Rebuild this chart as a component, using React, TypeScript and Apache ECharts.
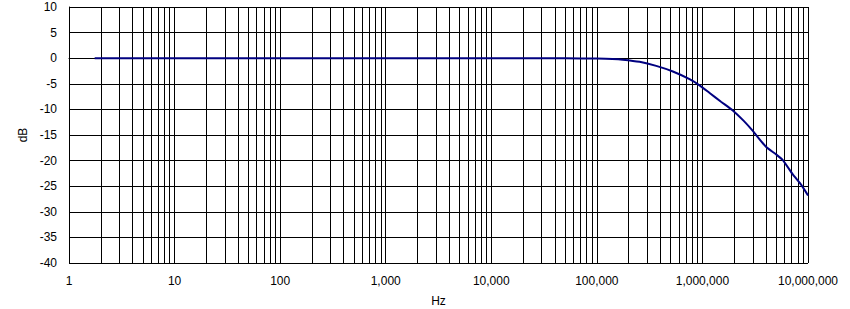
import React, { useEffect, useRef } from "react";
import * as echarts from "echarts";

// Frequency response data (Hz, dB)
const freqs = [1.75, 10, 100, 1000, 10000, 50000, 100000, 140000, 176000, 254000, 365000, 525000, 755000, 938000, 1170000, 1500000, 1940000, 2450000, 3000000, 4000000, 5000000, 5770000, 7180000, 8600000, 10000000];
const gains = [0, 0, 0, 0, 0, -0.02, -0.08, -0.15, -0.28, -0.7, -1.5, -2.6, -4.1, -5.3, -6.8, -8.5, -10.2, -12.2, -14.2, -17.3, -18.8, -19.9, -22.7, -24.7, -26.8];

// Minor vertical grid lines (2..9 within each decade)
const decades = [1, 10, 100, 1000, 10000, 100000, 1000000];
const multipliers = [2, 3, 4, 5, 6, 7, 8, 9];

const yTicks = { min: -40, max: 10, interval: 5 };

const fmt = (v: number) => Math.round(v).toLocaleString("en-US");

export default function App() {
  const ref = useRef<HTMLDivElement>(null);
  useEffect(() => {
    if (!ref.current) return;
    const chart = echarts.init(ref.current, null, { renderer: "svg" });
    const minorLines: { xAxis: number }[] = [];
    decades.forEach((d) => multipliers.forEach((m) => minorLines.push({ xAxis: d * m })));
    const font = "'Liberation Sans', Arial, sans-serif";
    chart.setOption({
      animation: false,
      grid: { left: 69, right: 42, top: 7, bottom: 46, containLabel: false, outerBoundsMode: "none" },
      xAxis: {
        type: "log",
        logBase: 10,
        min: 1,
        max: 10000000,
        name: "Hz",
        nameLocation: "middle",
        nameGap: 32,
        nameTextStyle: { color: "#000", fontSize: 12, fontFamily: font },
        axisLine: { show: true, lineStyle: { color: "#000", width: 1 } },
        axisTick: { show: false },
        axisLabel: { color: "#000", fontSize: 12, fontFamily: font, margin: 12, formatter: (v: number) => fmt(v) },
        splitLine: { show: true, lineStyle: { color: "#000", width: 1 } },
        minorTick: { show: false },
        minorSplitLine: { show: false },
      },
      yAxis: {
        type: "value",
        min: yTicks.min,
        max: yTicks.max,
        interval: yTicks.interval,
        name: "dB",
        nameLocation: "middle",
        nameGap: 36,
        nameTextStyle: { color: "#000", fontSize: 12, fontFamily: font },
        axisLine: { show: true, lineStyle: { color: "#000", width: 1 } },
        axisTick: { show: false },
        axisLabel: { color: "#000", fontSize: 12, fontFamily: font, margin: 12 },
        splitLine: { show: true, lineStyle: { color: "#000", width: 1 } },
      },
      series: [
        {
          type: "line",
          data: freqs.map((f, i) => [f, gains[i]]),
          showSymbol: false,
          smooth: 0.2,
          lineStyle: { color: "#000080", width: 2 },
          itemStyle: { color: "#000080" },
          z: 5,
          markLine: {
            silent: true,
            symbol: "none",
            label: { show: false },
            lineStyle: { color: "#000", width: 1, type: "solid" },
            data: minorLines,
            z: 1,
          },
        },
      ],
    });
    return () => chart.dispose();
  }, []);
  return <div ref={ref} style={{ position: "absolute", left: 0, top: 0, width: 850, height: 309 }} />;
}
